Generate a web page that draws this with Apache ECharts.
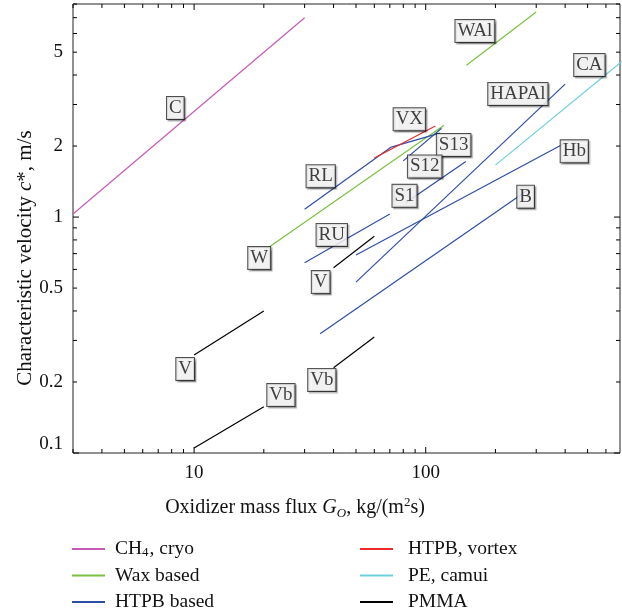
<!DOCTYPE html>
<html>
<head>
<meta charset="utf-8">
<script src="https://cdn.jsdelivr.net/npm/echarts@6/dist/echarts.min.js"></script>
<style>
  html, body { margin: 0; padding: 0; background: #fff; }
  #chart { width: 622px; height: 615px; }
</style>
</head>
<body>
<div id="chart"></div>
<script>
// axis ranges (log-log)
var X_MIN = 3, X_MAX = 690;
var Y_MIN = 0.1, Y_MAX = 8;

var xTickVals = [3, 4, 5, 6, 7, 8, 9, 10, 20, 30, 40, 50, 60, 70, 80, 90, 100, 200, 300, 400, 500, 600];
var xTickLabels = { 10: '10', 100: '100' };
var yTickVals = [0.1, 0.2, 0.3, 0.4, 0.5, 0.6, 0.7, 0.8, 0.9, 1, 2, 3, 4, 5, 6, 7, 8];
var yTickLabels = { 0.1: '0.1', 0.2: '0.2', 0.5: '0.5', 1: '1', 2: '2', 5: '5' };
var majorVals = [0.1, 1, 10, 100];

// each entry is one regression segment [[Go start, c* start], [Go end, c* end]]
var ch4Lines = [[[3, 1.03], [30, 7.0]]];
var waxLines = [
  [[20, 0.72], [120, 2.45]],   // W
  [[150, 4.4], [300, 7.4]]     // WAl
];
var htpbLines = [
  [[30, 1.08], [71, 1.98]],    // RL
  [[71, 1.98], [115, 2.27]],   // S13
  [[80, 1.73], [117, 2.38]],   // S12
  [[82, 1.15], [149, 1.72]],   // S1
  [[30, 0.64], [70, 1.03]],    // RU
  [[50, 0.69], [400, 2.06]],   // Hb
  [[50, 0.53], [400, 3.66]],   // HAPAl
  [[35, 0.32], [275, 1.30]]    // B
];
var vortexLines = [[[60, 1.78], [110, 2.43]]];
var camuiLines = [[[200, 1.66], [700, 4.55]]];
var pmmaLines = [
  [[10, 0.26], [20, 0.40]],    // V
  [[10, 0.105], [20, 0.157]],  // Vb
  [[40, 0.61], [60, 0.83]],    // V
  [[40, 0.23], [60, 0.31]]     // Vb
];

// boxed annotations
var tagNames = ['C', 'WAl', 'CA', 'HAPAl', 'VX', 'S13', 'S12', 'S1', 'Hb', 'B', 'RL', 'RU', 'W', 'V', 'Vb', 'Vb', 'V'];
var tagX = [8.3, 163, 509, 250, 85, 132, 99, 81, 438, 270, 35.2, 39.3, 19.1, 35.2, 35.6, 23.7, 9.15];
var tagY = [2.9, 6.14, 4.41, 3.32, 2.6, 2.02, 1.64, 1.23, 1.9, 1.22, 1.49, 0.84, 0.67, 0.53, 0.204, 0.176, 0.227];

var groups = [
  { name: 'CH4, cryo', color: '#c65bb8', lines: ch4Lines },
  { name: 'Wax based', color: '#7cc043', lines: waxLines },
  { name: 'HTPB based', color: '#2e4ea6', lines: htpbLines },
  { name: 'HTPB, vortex', color: '#ec2a2a', lines: vortexLines },
  { name: 'PE, camui', color: '#6dcfdc', lines: camuiLines },
  { name: 'PMMA', color: '#000000', lines: pmmaLines }
];

var FONT = '"Liberation Serif", "DejaVu Serif", serif';

var series = [];
groups.forEach(function (g) {
  g.lines.forEach(function (seg) {
    series.push({
      type: 'line',
      name: g.name,
      data: seg,
      showSymbol: false,
      symbol: 'none',
      silent: true,
      animation: false,
      color: g.color,
      itemStyle: { color: g.color },
      lineStyle: { color: g.color, width: 1.2 },
      z: 2
    });
  });
});

// tick marks and tick labels on all four sides
series.push({
  type: 'custom',
  silent: true,
  animation: false,
  clip: false,
  z: 5,
  data: xTickVals.map(function (v) { return [v, Y_MIN]; }),
  renderItem: function (params, api) {
    var v = api.value(0);
    var b = api.coord([v, Y_MIN]);
    var t = api.coord([v, Y_MAX]);
    var len = majorVals.indexOf(v) >= 0 ? 6 : 4;
    var kids = [
      { type: 'line', shape: { x1: b[0], y1: b[1], x2: b[0], y2: b[1] - len }, style: { stroke: '#000', lineWidth: 1 } },
      { type: 'line', shape: { x1: t[0], y1: t[1], x2: t[0], y2: t[1] + len }, style: { stroke: '#000', lineWidth: 1 } }
    ];
    if (xTickLabels[v]) {
      kids.push({ type: 'text', x: b[0], y: b[1] + 20, style: { text: xTickLabels[v], font: '19px ' + FONT, fill: '#111', align: 'center', verticalAlign: 'middle' } });
    }
    return { type: 'group', children: kids };
  }
});
series.push({
  type: 'custom',
  silent: true,
  animation: false,
  clip: false,
  z: 5,
  data: yTickVals.map(function (v) { return [X_MIN, v]; }),
  renderItem: function (params, api) {
    var v = api.value(1);
    var l = api.coord([X_MIN, v]);
    var r = api.coord([X_MAX, v]);
    var len = majorVals.indexOf(v) >= 0 ? 6 : 4;
    var kids = [
      { type: 'line', shape: { x1: l[0], y1: l[1], x2: l[0] + len, y2: l[1] }, style: { stroke: '#000', lineWidth: 1 } },
      { type: 'line', shape: { x1: r[0], y1: r[1], x2: r[0] - len, y2: r[1] }, style: { stroke: '#000', lineWidth: 1 } }
    ];
    if (yTickLabels[v]) {
      var bottom = v === Y_MIN;
      kids.push({ type: 'text', x: l[0] - 10, y: bottom ? l[1] + 1 : l[1], style: { text: yTickLabels[v], font: '19px ' + FONT, fill: '#111', align: 'right', verticalAlign: bottom ? 'bottom' : 'middle' } });
    }
    return { type: 'group', children: kids };
  }
});

// annotation boxes
series.push({
  type: 'scatter',
  silent: true,
  animation: false,
  symbolSize: 0,
  z: 10,
  data: tagNames.map(function (n, i) { return { name: n, value: [tagX[i], tagY[i]] }; }),
  label: {
    show: true,
    position: 'inside',
    formatter: '{b}',
    fontFamily: FONT,
    fontSize: 19,
    lineHeight: 19,
    color: '#111',
    backgroundColor: '#fff',
    borderColor: '#222',
    borderWidth: 1,
    padding: [2, 2, 1, 2],
    shadowColor: 'rgba(0,0,0,0.35)',
    shadowOffsetX: 1.5,
    shadowOffsetY: 1.5,
    shadowBlur: 1
  }
});

function legendText(gap) {
  return {
    fontFamily: FONT,
    fontSize: 19.5,
    color: '#111',
    lineHeight: 20,
    padding: [0, 0, 0, gap],
    rich: {
      sub: { fontFamily: FONT, fontSize: 13, verticalAlign: 'bottom', lineHeight: 14, padding: [0, 1, 0, 0] }
    }
  };
}
function legendFmt(name) {
  return name === 'CH4, cryo' ? 'CH{sub|4}, cryo' : name;
}

var chart = echarts.init(document.getElementById('chart'), null, { renderer: 'canvas' });
chart.setOption({
  animation: false,
  backgroundColor: '#fff',
  grid: { left: 73, top: 4, right: 2, bottom: 162, show: true, borderColor: '#222', borderWidth: 1, containLabel: false },
  xAxis: {
    type: 'log', logBase: 10, min: X_MIN, max: X_MAX,
    axisLine: { show: false }, axisTick: { show: false }, axisLabel: { show: false }, splitLine: { show: false }
  },
  yAxis: {
    type: 'log', logBase: 10, min: Y_MIN, max: Y_MAX,
    axisLine: { show: false }, axisTick: { show: false }, axisLabel: { show: false }, splitLine: { show: false }
  },
  legend: [
    {
      orient: 'vertical', left: 72, top: 539, padding: 0, height: 76, icon: 'rect', itemWidth: 33, itemHeight: 2, itemGap: 6.5,
      data: ['CH4, cryo', 'Wax based', 'HTPB based'], formatter: legendFmt, textStyle: legendText(5), selectedMode: false
    },
    {
      orient: 'vertical', left: 360, top: 539, padding: 0, height: 76, icon: 'rect', itemWidth: 33, itemHeight: 2, itemGap: 6.5,
      data: ['HTPB, vortex', 'PE, camui', 'PMMA'], formatter: legendFmt, textStyle: legendText(10), selectedMode: false
    }
  ],
  graphic: [
    {
      type: 'text', x: 295, y: 508,
      style: {
        text: 'Oxidizer mass flux {i|G}{sub|O}, kg/(m{sup|2}s)',
        font: '20px ' + FONT, fill: '#111', align: 'center', verticalAlign: 'middle',
        rich: {
          i: { fontFamily: FONT, fontSize: 20, fontStyle: 'italic', lineHeight: 24 },
          sub: { fontFamily: FONT, fontSize: 13, fontStyle: 'italic', verticalAlign: 'bottom', lineHeight: 17 },
          sup: { fontFamily: FONT, fontSize: 13, verticalAlign: 'top', lineHeight: 17 }
        }
      }
    },
    {
      type: 'text', x: 25, y: 258, rotation: Math.PI / 2,
      style: {
        text: 'Characteristic velocity {i|c}*, m/s',
        font: '21px ' + FONT, fill: '#111', align: 'center', verticalAlign: 'middle',
        rich: { i: { fontFamily: FONT, fontSize: 21, fontStyle: 'italic' } }
      }
    }
  ],
  series: series
});
</script>
</body>
</html>
